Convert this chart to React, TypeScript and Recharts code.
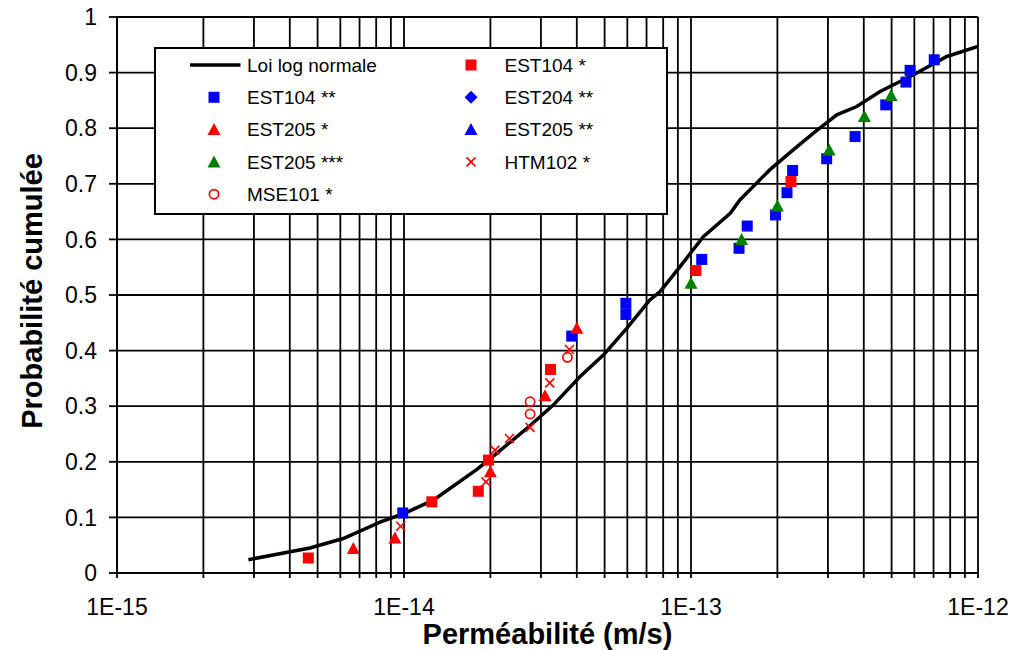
import React from 'react';
import { ComposedChart, Line, Scatter, XAxis, YAxis, CartesianGrid, Legend, Label } from 'recharts';

const FONT = '"Liberation Sans", Arial, Helvetica, sans-serif';
const BLUE = '#0000FF';
const RED = '#FF0000';
const GREEN = '#008000';

// Axis ticks
const xDecades = [1e-15, 1e-14, 1e-13, 1e-12];
const xDecadeLabels = ['1E-15', '1E-14', '1E-13', '1E-12'];
const xMultipliers = [1, 2, 3, 4, 5, 6, 7, 8, 9];
const yTicks = [0, 0.1, 0.2, 0.3, 0.4, 0.5, 0.6, 0.7, 0.8, 0.9, 1];
const yTickLabels = ['0', '0.1', '0.2', '0.3', '0.4', '0.5', '0.6', '0.7', '0.8', '0.9', '1'];

// Loi log normale
const lognormX = [2.87e-15, 4.7e-15, 6.14e-15, 8.25e-15, 1.0e-14, 1.265e-14, 1.79e-14, 1.99e-14, 2.68e-14, 3.31e-14, 4.1e-14, 4.95e-14, 5.97e-14, 7.19e-14, 7.8e-14, 9.16e-14, 1.104e-13, 1.37e-13, 1.48e-13, 1.88e-13, 2.27e-13, 2.67e-13, 3.22e-13, 3.78e-13, 4.56e-13, 5.96e-13, 7.79e-13, 1e-12];
const lognormY = [0.024, 0.045, 0.062, 0.0915, 0.107, 0.131, 0.186, 0.205, 0.26, 0.302, 0.353, 0.392, 0.44, 0.491, 0.506, 0.551, 0.605, 0.647, 0.671, 0.725, 0.761, 0.791, 0.824, 0.839, 0.866, 0.896, 0.929, 0.947];

// EST104 **
const est104ssX = [9.9e-15, 3.84e-14, 5.93e-14, 5.93e-14, 1.09e-13, 1.47e-13, 1.57e-13, 1.97e-13, 2.16e-13, 2.26e-13, 2.97e-13, 3.73e-13, 4.77e-13, 5.61e-13, 5.8e-13, 7.04e-13];
const est104ssY = [0.108, 0.426, 0.465, 0.485, 0.564, 0.584, 0.624, 0.644, 0.684, 0.724, 0.745, 0.785, 0.842, 0.883, 0.904, 0.923];
// EST104 *
const est104sX = [4.64e-15, 1.25e-14, 1.815e-14, 1.97e-14, 3.24e-14, 1.04e-13, 2.23e-13];
const est104sY = [0.027, 0.128, 0.147, 0.203, 0.366, 0.544, 0.704];
// EST205 *
const est205sX = [6.66e-15, 9.3e-15, 2.0e-14, 3.1e-14, 4.0e-14];
const est205sY = [0.044, 0.063, 0.182, 0.319, 0.44];
// EST205 ***
const est205sssX = [1.0e-13, 1.5e-13, 2.0e-13, 3.03e-13, 4.02e-13, 4.98e-13];
const est205sssY = [0.521, 0.6, 0.66, 0.761, 0.821, 0.859];
// HTM102 *
const htm102sX = [9.74e-15, 1.93e-14, 2.075e-14, 2.33e-14, 2.75e-14, 3.22e-14, 3.77e-14];
const htm102sY = [0.084, 0.164, 0.221, 0.242, 0.262, 0.342, 0.402];
// MSE101 *
const mse101sX = [2.75e-14, 2.75e-14, 3.71e-14];
const mse101sY = [0.286, 0.308, 0.388];
// EST204 ** and EST205 ** (no visible points)
const est204ssX: number[] = [];
const est204ssY: number[] = [];
const est205ssX: number[] = [];
const est205ssY: number[] = [];

const zip = (xs: number[], ys: number[]) => xs.map((x, i) => ({ x, y: ys[i] }));

const xTicks: number[] = [];
xDecades.slice(0, 3).forEach((d) => xMultipliers.forEach((m) => xTicks.push(d * m)));
xTicks.push(xDecades[3]);

const fmtX = (v: number) => {
  for (let i = 0; i < xDecades.length; i++) {
    if (Math.abs(v / xDecades[i] - 1) < 1e-6) return xDecadeLabels[i];
  }
  return '';
};
const fmtY = (v: number) => {
  const i = yTicks.findIndex((t) => Math.abs(t - v) < 1e-9);
  return i >= 0 ? yTickLabels[i] : '';
};

type MP = { cx: number; cy: number; color: string };
const Sq = ({ cx, cy, color }: MP) => <rect x={cx - 5.5} y={cy - 5.5} width={11} height={11} fill={color} />;
const Tri = ({ cx, cy, color }: MP) => (
  <polygon points={`${cx},${cy - 6.5} ${cx + 6.5},${cy + 5.5} ${cx - 6.5},${cy + 5.5}`} fill={color} />
);
const Dia = ({ cx, cy, color }: MP) => (
  <polygon points={`${cx},${cy - 6.5} ${cx + 6.5},${cy} ${cx},${cy + 6.5} ${cx - 6.5},${cy}`} fill={color} />
);
const Cross = ({ cx, cy, color }: MP) => (
  <g stroke={color} strokeWidth={1.6}>
    <line x1={cx - 4.5} y1={cy - 4.5} x2={cx + 4.5} y2={cy + 4.5} />
    <line x1={cx - 4.5} y1={cy + 4.5} x2={cx + 4.5} y2={cy - 4.5} />
  </g>
);
const Circ = ({ cx, cy, color }: MP) => <circle cx={cx} cy={cy} r={4.6} fill="none" stroke={color} strokeWidth={1.7} />;

const shapeFor = (Comp: any, color: string) => (p: any) => <Comp cx={p.cx} cy={p.cy} color={color} />;

type LegendEntry = { name: string; kind: string; color: string; col: number; row: number };
const legendEntries: LegendEntry[] = [
  { name: 'Loi log normale', kind: 'line', color: '#000', col: 0, row: 0 },
  { name: 'EST104 **', kind: 'sq', color: BLUE, col: 0, row: 1 },
  { name: 'EST205 *', kind: 'tri', color: RED, col: 0, row: 2 },
  { name: 'EST205 ***', kind: 'tri', color: GREEN, col: 0, row: 3 },
  { name: 'MSE101 *', kind: 'circ', color: RED, col: 0, row: 4 },
  { name: 'EST104 *', kind: 'sq', color: RED, col: 1, row: 0 },
  { name: 'EST204 **', kind: 'dia', color: BLUE, col: 1, row: 1 },
  { name: 'EST205 **', kind: 'tri', color: BLUE, col: 1, row: 2 },
  { name: 'HTM102 *', kind: 'x', color: RED, col: 1, row: 3 },
];

const LegendBox = () => {
  const symX = [60, 317];
  const textX = [93, 350.5];
  return (
    <svg width={514} height={168} style={{ display: 'block' }}>
      <rect x={1} y={1} width={512} height={166} fill="#fff" stroke="#000" strokeWidth={2} />
      {legendEntries.map((e) => {
        const cy = 18 + 32.3 * e.row;
        const cx = symX[e.col];
        let sym: React.ReactNode = null;
        if (e.kind === 'line') sym = <line x1={36} x2={86.5} y1={cy} y2={cy} stroke="#000" strokeWidth={3.5} />;
        else if (e.kind === 'sq') sym = <Sq cx={cx} cy={cy} color={e.color} />;
        else if (e.kind === 'tri') sym = <Tri cx={cx} cy={cy} color={e.color} />;
        else if (e.kind === 'dia') sym = <Dia cx={cx} cy={cy} color={e.color} />;
        else if (e.kind === 'x') sym = <Cross cx={cx} cy={cy} color={e.color} />;
        else if (e.kind === 'circ') sym = <Circ cx={cx} cy={cy} color={e.color} />;
        return (
          <g key={e.name}>
            {sym}
            <text x={textX[e.col]} y={cy + 6.8} fontSize={19} fontFamily={FONT} fill="#000">
              {e.name}
            </text>
          </g>
        );
      })}
    </svg>
  );
};

const XTitle = (props: any) => {
  const vb = props.viewBox || { x: 117, y: 573, width: 861, height: 77 };
  return (
    <text x={vb.x + vb.width / 2} y={644} textAnchor="middle" fontSize={29} fontWeight="bold" fontFamily={FONT} fill="#000">
      Perméabilité (m/s)
    </text>
  );
};
const YTitle = (props: any) => {
  const vb = props.viewBox || { x: 0, y: 17, width: 117, height: 556 };
  const x = 42;
  const y = vb.y + vb.height / 2 - 4;
  return (
    <text x={x} y={y} transform={`rotate(-90, ${x}, ${y})`} textAnchor="middle" fontSize={29} fontWeight="bold" fontFamily={FONT} fill="#000">
      Probabilité cumulée
    </text>
  );
};

export default function App() {
  const tickStyle = { fill: '#000', fontSize: 23, fontFamily: FONT };
  return (
    <div style={{ position: 'absolute', left: 0, top: 0, width: 1021, height: 650, background: '#fff', fontFamily: FONT }}>
      <ComposedChart width={1021} height={650} margin={{ top: 17, right: 43, bottom: 0, left: 0 }}>
        <CartesianGrid stroke="#000" strokeWidth={1.8} fill="none" />
        <XAxis
          dataKey="x"
          type="number"
          scale="log"
          domain={[1e-15, 1e-12]}
          allowDataOverflow
          ticks={xTicks}
          interval={0}
          tickFormatter={fmtX}
          tickSize={5}
          tickMargin={21}
          height={77}
          axisLine={{ stroke: '#000', strokeWidth: 2 }}
          tickLine={{ stroke: '#000', strokeWidth: 1.8 }}
          tick={tickStyle}
        >
          <Label content={XTitle} />
        </XAxis>
        <YAxis
          dataKey="y"
          type="number"
          domain={[0, 1]}
          allowDataOverflow
          ticks={yTicks}
          interval={0}
          tickFormatter={fmtY}
          tickSize={8}
          tickMargin={12}
          width={117}
          axisLine={{ stroke: '#000', strokeWidth: 2 }}
          tickLine={{ stroke: '#000', strokeWidth: 1.8 }}
          tick={tickStyle}
        >
          <Label content={YTitle} />
        </YAxis>
        <Legend
          layout="horizontal"
          verticalAlign="middle"
          align="center"
          content={() => <LegendBox />}
          wrapperStyle={{ left: 154, top: 47, width: 514, height: 168 }}
        />
        <Line name="Loi log normale" data={zip(lognormX, lognormY)} dataKey="y" type="linear" stroke="#000" strokeWidth={3.5} dot={false} activeDot={false} isAnimationActive={false} />
        <Scatter name="EST104 **" data={zip(est104ssX, est104ssY)} dataKey="y" shape={shapeFor(Sq, BLUE)} isAnimationActive={false} />
        <Scatter name="EST104 *" data={zip(est104sX, est104sY)} dataKey="y" shape={shapeFor(Sq, RED)} isAnimationActive={false} />
        <Scatter name="EST204 **" data={zip(est204ssX, est204ssY)} dataKey="y" shape={shapeFor(Dia, BLUE)} isAnimationActive={false} />
        <Scatter name="EST205 *" data={zip(est205sX, est205sY)} dataKey="y" shape={shapeFor(Tri, RED)} isAnimationActive={false} />
        <Scatter name="EST205 **" data={zip(est205ssX, est205ssY)} dataKey="y" shape={shapeFor(Tri, BLUE)} isAnimationActive={false} />
        <Scatter name="EST205 ***" data={zip(est205sssX, est205sssY)} dataKey="y" shape={shapeFor(Tri, GREEN)} isAnimationActive={false} />
        <Scatter name="HTM102 *" data={zip(htm102sX, htm102sY)} dataKey="y" shape={shapeFor(Cross, RED)} isAnimationActive={false} />
        <Scatter name="MSE101 *" data={zip(mse101sX, mse101sY)} dataKey="y" shape={shapeFor(Circ, RED)} isAnimationActive={false} />
      </ComposedChart>
    </div>
  );
}
